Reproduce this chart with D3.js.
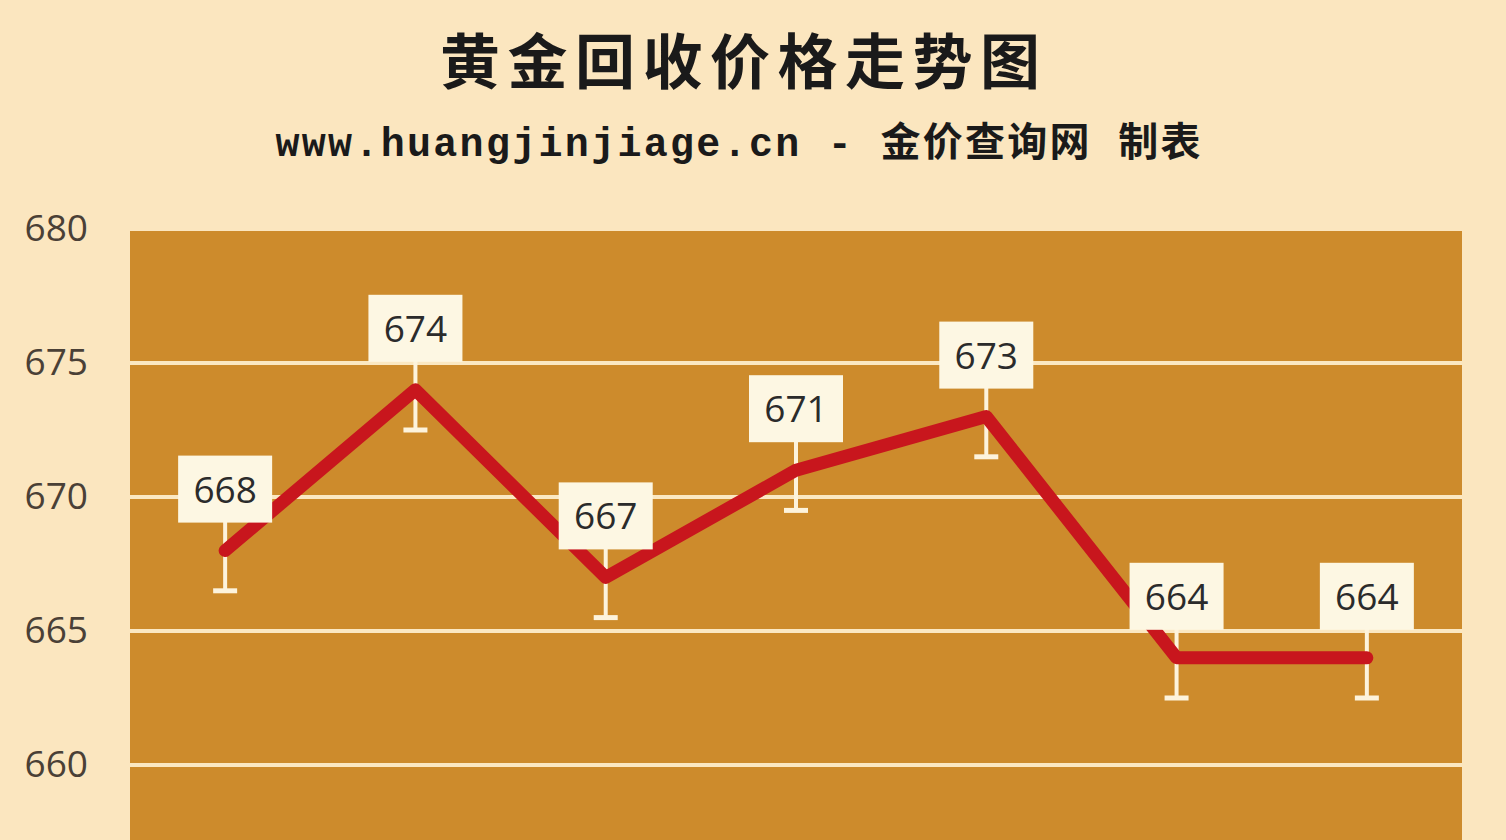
<!DOCTYPE html>
<html lang="zh">
<head>
<meta charset="UTF-8">
<title>黄金回收价格走势图</title>
<script src="https://cdn.jsdelivr.net/npm/d3@7"></script>
<style>
  html, body { margin: 0; padding: 0; background: #fbe6bf; }
</style>
</head>
<body>
<svg id="chart" width="1506" height="840"></svg>
<script>
// chart data
const days = ["1", "2", "3", "4", "5", "6", "7"];
const prices = [668, 674, 667, 671, 673, 664, 664];
const errMinus = [1.5, 1.5, 1.5, 1.5, 1.5, 1.5, 1.5];
const yTicks = [660, 665, 670, 675, 680];

const width = 1506, height = 840;
const plot = { left: 130, right: 1462, top: 229 };

const svg = d3.select("#chart");

svg.append("rect")
    .attr("width", width).attr("height", height)
    .attr("fill", "#fbe6bf");

// titles
svg.append("text")
    .attr("x", 740).attr("y", 84)
    .attr("text-anchor", "middle")
    .attr("font-family", "Noto Sans CJK SC")
    .attr("font-weight", "bold")
    .attr("font-size", 60)
    .attr("fill", "#1a1a1a")
    .attr("textLength", 600)
    .attr("lengthAdjust", "spacing")
    .text("黄金回收价格走势图");

svg.append("text")
    .attr("x", 738).attr("y", 156)
    .attr("text-anchor", "middle")
    .attr("font-family", "'Liberation Mono', 'Noto Sans CJK SC'")
    .attr("font-weight", "bold")
    .attr("font-size", 40)
    .attr("fill", "#1a1a1a")
    .attr("textLength", 925)
    .attr("lengthAdjust", "spacing")
    .text("www.huangjinjiage.cn - 金价查询网 制表");

const x = d3.scaleBand()
    .domain(days)
    .range([plot.left, plot.right]);

const y = d3.scaleLinear()
    .domain([655, 680])
    .range([229 + 25 * 26.8, 229]);

// plot background
svg.append("rect")
    .attr("x", plot.left).attr("y", y(680) + 2)
    .attr("width", plot.right - plot.left)
    .attr("height", height - y(680))
    .attr("fill", "#cd8b2c");

// gridlines
svg.append("g")
    .selectAll("line")
    .data(yTicks.filter(d => d < 680))
    .join("line")
    .attr("x1", plot.left).attr("x2", plot.right)
    .attr("y1", d => y(d)).attr("y2", d => y(d))
    .attr("stroke", "#fbe8c2")
    .attr("stroke-width", 4);

// y axis labels
const yAxis = svg.append("g")
    .attr("transform", `translate(${plot.left - 42},0)`)
    .call(d3.axisLeft(y).tickValues(yTicks).tickSize(0).tickPadding(0));
yAxis.select(".domain").remove();
yAxis.selectAll("text")
    .attr("font-family", "'Open Sans', sans-serif")
    .attr("font-size", 37)
    .attr("fill", "#4a4036")
    .attr("dy", "0.3em");

const cx = d => x(d) + x.bandwidth() / 2;

// error bars (under the line)
const err = svg.append("g")
    .selectAll("g")
    .data(days)
    .join("g");
err.append("line")
    .attr("x1", d => cx(d)).attr("x2", d => cx(d))
    .attr("y1", (d, i) => y(prices[i]) - 30)
    .attr("y2", (d, i) => y(prices[i] - errMinus[i]))
    .attr("stroke", "#fdf3dc")
    .attr("stroke-width", 4);
err.append("line")
    .attr("x1", d => cx(d) - 12).attr("x2", d => cx(d) + 12)
    .attr("y1", (d, i) => y(prices[i] - errMinus[i]))
    .attr("y2", (d, i) => y(prices[i] - errMinus[i]))
    .attr("stroke", "#fdf3dc")
    .attr("stroke-width", 5);

// price line
const line = d3.line()
    .x((d, i) => cx(days[i]))
    .y(d => y(d));

svg.append("path")
    .datum(prices)
    .attr("d", line)
    .attr("fill", "none")
    .attr("stroke", "#c8161d")
    .attr("stroke-width", 13)
    .attr("stroke-linejoin", "round")
    .attr("stroke-linecap", "round");

// value labels
const lab = svg.append("g")
    .selectAll("g")
    .data(days)
    .join("g")
    .attr("transform", (d, i) => `translate(${cx(d)},${y(prices[i]) - 28})`);
lab.append("rect")
    .attr("x", -47).attr("y", -67)
    .attr("width", 94).attr("height", 67)
    .attr("fill", "#fdf7e3");
lab.append("text")
    .attr("x", 0).attr("y", -33)
    .attr("dy", "0.35em")
    .attr("text-anchor", "middle")
    .attr("font-family", "'Open Sans', sans-serif")
    .attr("font-size", 37)
    .attr("fill", "#2b2b2b")
    .text((d, i) => prices[i]);
</script>
</body>
</html>
